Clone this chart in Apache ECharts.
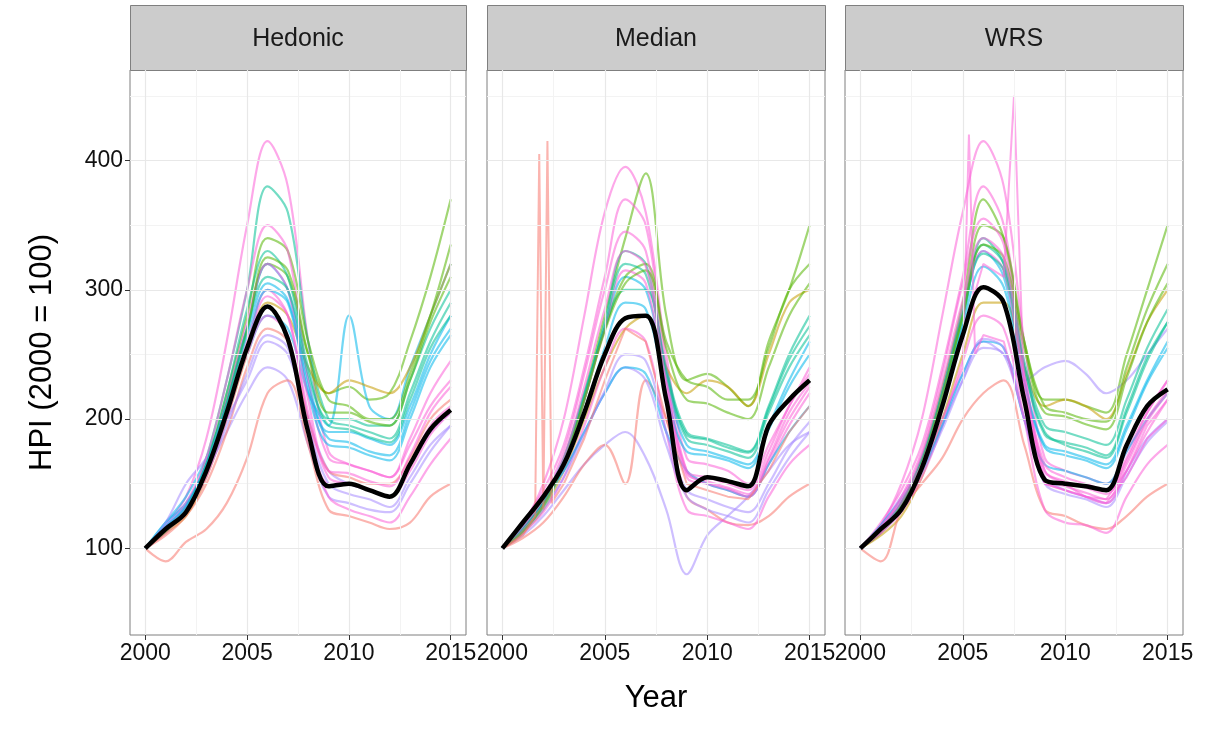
<!DOCTYPE html>
<html><head><meta charset="utf-8">
<script src="https://cdn.jsdelivr.net/npm/echarts@6/dist/echarts.min.js"></script>
<style>html,body{margin:0;padding:0;background:#fff}#c{width:1214px;height:736px}</style>
</head><body><div id="c"></div>
<script>
const years=[2000,2001,2002,2003,2004,2005,2006,2007,2008,2009,2010,2011,2012,2013,2014,2015];
const panels=['Hedonic','Median','WRS'];
const hueColors=['#F8766D','#C49A00','#53B400','#00C094','#00B6EB','#A58AFF','#FB61D7'];
const meanHedonic=[100,115,128,160,205,255,287,262,190,148,150,145,140,165,192,207];
const meanMedian=[100,120,140,165,205,250,278,280,215,145,155,152,148,195,215,230];
const meanWRS=[100,115,130,162,210,265,302,290,215,153,150,148,145,180,210,223];
const hedonicLines=[
[6,[100,118,140,185,260,350,415,380,260,175,165,160,155,180,210,230]],
[2,[100,115,130,165,215,270,320,310,250,220,225,215,220,260,310,370]],
[4,[100,120,140,170,210,250,280,270,220,195,280,210,200,240,280,320]],
[5,[100,118,135,160,190,220,240,230,180,140,135,130,128,150,175,195]],
[0,[100,90,105,115,135,170,220,230,180,130,125,120,115,120,140,150]],
[3,[100,115,130,170,230,300,380,360,260,200,195,190,185,220,260,290]],
[1,[100,112,125,155,200,250,290,280,240,220,230,225,220,240,280,320]],
[6,[100,115,130,160,210,260,300,280,200,150,150,145,140,165,195,210]],
[4,[100,120,135,165,215,270,320,300,230,190,190,185,180,210,250,280]],
[5,[100,120,150,170,200,230,260,250,200,160,150,145,140,165,190,205]],
[6,[100,112,128,155,200,250,280,265,190,140,130,125,120,140,165,185]],
[2,[100,115,132,165,220,280,340,330,260,215,210,200,200,235,280,335]],
[0,[100,110,125,150,190,240,270,260,200,160,155,150,150,170,200,215]],
[6,[100,116,135,170,230,300,350,330,230,170,165,160,155,185,220,245]],
[3,[100,114,130,165,220,285,330,310,240,200,200,195,195,230,270,300]],
[4,[100,116,132,162,205,255,300,290,220,180,178,172,168,200,240,265]],
[6,[100,113,130,162,215,275,320,300,215,160,158,152,148,172,205,225]],
[5,[100,115,132,158,195,235,265,255,195,150,142,138,132,155,180,195]],
[3,[100,115,130,163,212,270,310,300,235,195,192,186,182,215,255,280]],
[6,[100,114,128,158,205,255,295,280,205,155,150,145,140,160,188,205]],
[2,[100,113,128,160,212,268,325,315,250,205,205,198,195,230,275,310]],
[4,[100,117,133,165,212,265,305,292,225,185,182,175,172,205,245,270]]
];
const medianLines=[
[6,[100,118,150,200,280,360,395,360,250,170,165,160,150,180,210,240]],
[2,[100,112,135,170,220,280,340,390,280,230,235,225,210,260,300,350]],
[5,[100,110,125,145,165,180,190,170,130,80,110,125,140,160,180,190]],
[4,[100,118,140,170,220,270,310,300,230,180,175,170,165,195,230,260]],
[3,[100,115,135,165,215,275,330,320,240,190,185,180,175,210,250,280]],
[1,[100,112,130,160,200,240,270,280,240,220,230,225,210,250,290,300]],
[0,[100,108,120,140,165,180,150,230,200,140,130,120,118,125,140,150]],
[6,[100,112,128,155,195,240,270,260,190,130,125,120,115,140,165,180]],
[5,[100,115,135,160,190,220,240,230,180,140,130,125,120,145,170,190]],
[6,[100,120,145,180,240,310,370,350,240,160,150,145,140,165,195,220]],
[4,[100,120,140,160,190,220,240,235,190,160,150,145,140,165,190,210]],
[2,[100,115,135,165,215,270,310,320,260,230,225,215,215,255,300,320]],
[6,[100,116,140,175,235,300,345,330,230,160,155,150,145,175,210,235]],
[3,[100,114,132,165,215,270,300,300,235,185,180,175,170,205,240,265]],
[4,[100,116,136,164,205,255,290,285,220,175,172,168,162,192,225,250]],
[6,[100,114,134,166,215,270,315,305,220,155,150,146,140,168,200,225]],
[5,[100,113,130,155,188,222,250,245,190,145,138,132,128,150,178,198]],
[3,[100,116,136,168,218,272,320,312,238,188,184,178,174,208,246,272]],
[2,[100,113,133,166,215,268,305,315,255,215,212,205,200,240,280,305]],
[6,[100,117,138,170,225,285,330,318,228,158,152,147,142,170,205,228]]
];
const wrsLines=[
[6,[100,118,150,200,280,360,415,380,260,170,160,155,150,175,205,230]],
[2,[100,112,135,170,225,290,370,340,260,215,215,210,205,250,300,350]],
[5,[100,118,140,165,200,235,260,250,230,240,245,235,220,230,250,270]],
[4,[100,115,135,170,220,280,330,310,230,180,175,170,165,195,230,260]],
[3,[100,112,130,165,215,275,340,320,240,190,180,175,170,205,245,275]],
[1,[100,110,125,155,200,250,290,290,240,210,215,210,200,235,275,300]],
[0,[100,90,130,150,170,200,220,230,180,130,125,118,115,125,140,150]],
[6,[100,112,128,155,195,245,280,270,200,130,120,118,112,140,165,180]],
[5,[100,115,135,160,195,230,255,250,200,155,145,140,135,160,185,200]],
[6,[100,120,145,180,240,310,380,350,240,160,150,140,135,160,190,215]],
[4,[100,118,138,160,195,235,260,255,200,165,160,155,150,175,200,220]],
[2,[100,115,135,168,220,280,350,340,260,210,205,200,198,240,285,320]],
[6,[100,116,140,175,235,305,355,335,235,165,155,150,145,170,205,230]],
[3,[100,114,132,168,220,285,335,320,245,195,190,185,180,215,255,285]],
[4,[100,116,135,166,215,272,318,302,228,178,172,168,162,192,228,255]],
[6,[100,114,132,165,220,285,330,315,225,155,148,143,138,165,198,220]],
[5,[100,114,133,158,192,230,262,255,200,150,142,138,132,156,182,198]],
[3,[100,115,134,168,222,282,328,315,240,188,182,178,172,208,248,275]],
[2,[100,113,133,166,218,280,335,325,255,205,202,196,192,232,275,305]],
[6,[100,117,138,172,228,292,340,325,232,160,152,147,142,168,200,222]]
];
const medSpikeX=[2000,2001,2001.6,2001.8,2002.0,2002.2,2002.4,2003,2004,2005,2006,2007,2008,2009,2010,2011,2012,2013,2014,2015];
const medSpikeY=[100,110,125,405,130,415,135,150,185,230,270,260,200,150,145,140,138,160,190,210];
const wrsSpikeX=[2000,2001,2002,2003,2004,2005,2006,2007,2007.5,2008,2009,2010,2011,2012,2013,2014,2015];
const wrsSpikeY=[100,115,135,165,210,265,320,310,450,220,150,145,140,138,160,195,215];
const wrsSpike2X=[2000,2001,2002,2003,2004,2005,2005.3,2005.6,2006,2007,2008,2009,2010,2011,2012,2013,2014,2015];
const wrsSpike2Y=[100,112,130,160,200,240,420,250,265,260,200,150,145,140,135,155,185,200];
const yTicks=[100,200,300,400];
const yMinor=[150,250,350,450];
const xTicks=[2000,2005,2010,2015];
const xMinor=[2002.5,2007.5,2012.5];

const lefts=[130,487,845], widths=[336,338,338];
const gTop=70, gBottom=101;
const grid=[],xAxis=[],yAxis=[],series=[],graphic=[];
const allLines=[hedonicLines,medianLines,wrsLines];
const means=[meanHedonic,meanMedian,meanWRS];
const zip=(xs,ys)=>xs.map((x,i)=>[x,ys[i]]);
for(let p=0;p<3;p++){
  grid.push({left:lefts[p],width:widths[p],top:gTop,bottom:gBottom,show:true,borderColor:'#7f7f7f',borderWidth:1,backgroundColor:'#fff'});
  xAxis.push({type:'value',gridIndex:p,min:1999.25,max:2015.75,
    axisLine:{show:false},splitLine:{show:false},
    axisTick:{show:true,customValues:xTicks,length:5,lineStyle:{color:'#333'}},
    axisLabel:{customValues:xTicks,formatter:v=>String(v),color:'#111',fontSize:23,fontFamily:'Liberation Sans',margin:7},
    name:p===1?'Year':'',nameLocation:'middle',nameGap:48,nameTextStyle:{fontSize:31,color:'#000',fontFamily:'Liberation Sans'}});
  yAxis.push({type:'value',gridIndex:p,min:33,max:470,
    axisLine:{show:false},splitLine:{show:false},
    axisTick:{show:p===0,customValues:yTicks,length:5,lineStyle:{color:'#333'}},
    axisLabel:{show:p===0,customValues:yTicks,color:'#111',fontSize:23,fontFamily:'Liberation Sans',margin:7},
    name:p===0?'HPI (2000 = 100)':'',nameLocation:'middle',nameGap:72,nameTextStyle:{fontSize:31,color:'#000',fontFamily:'Liberation Sans'}});
  const ml=[];
  yMinor.forEach(v=>ml.push({yAxis:v,lineStyle:{color:'#f3f3f3',width:1,type:'solid'}}));
  xMinor.forEach(v=>ml.push({xAxis:v,lineStyle:{color:'#f3f3f3',width:1,type:'solid'}}));
  yTicks.forEach(v=>ml.push({yAxis:v,lineStyle:{color:'#e8e8e8',width:1.2,type:'solid'}}));
  xTicks.forEach(v=>ml.push({xAxis:v,lineStyle:{color:'#e8e8e8',width:1.2,type:'solid'}}));
  series.push({type:'line',xAxisIndex:p,yAxisIndex:p,data:[],silent:true,z:1,
    markLine:{silent:true,symbol:'none',label:{show:false},animation:false,data:ml}});
  allLines[p].forEach(([c,vals])=>{
    series.push({type:'line',xAxisIndex:p,yAxisIndex:p,data:zip(years,vals),smooth:0.35,showSymbol:false,z:2,
      lineStyle:{color:hueColors[c],width:2.2,opacity:0.55},animation:false});
  });
  if(p===1) series.push({type:'line',xAxisIndex:1,yAxisIndex:1,data:zip(medSpikeX,medSpikeY),showSymbol:false,z:2,lineStyle:{color:'#F8766D',width:2,opacity:0.55},animation:false});
  if(p===2){
    series.push({type:'line',xAxisIndex:2,yAxisIndex:2,data:zip(wrsSpikeX,wrsSpikeY),showSymbol:false,z:2,lineStyle:{color:'#FB61D7',width:2,opacity:0.55},animation:false});
    series.push({type:'line',xAxisIndex:2,yAxisIndex:2,data:zip(wrsSpike2X,wrsSpike2Y),showSymbol:false,z:2,lineStyle:{color:'#FB61D7',width:2,opacity:0.55},animation:false});
  }
  series.push({type:'line',xAxisIndex:p,yAxisIndex:p,data:zip(years,means[p]),smooth:0.35,showSymbol:false,z:5,
    lineStyle:{color:'#000',width:4.5},animation:false});
  graphic.push({type:'rect',left:lefts[p],top:5,shape:{width:widths[p],height:65},style:{fill:'#cccccc',stroke:'#7f7f7f',lineWidth:1}});
  graphic.push({type:'text',x:lefts[p]+widths[p]/2,y:39,style:{text:panels[p],fill:'#1a1a1a',font:'25px Liberation Sans',align:'center',verticalAlign:'middle'}});
}
const chart=echarts.init(document.getElementById('c'));
chart.setOption({animation:false,grid,xAxis,yAxis,series,graphic});
</script></body></html>
